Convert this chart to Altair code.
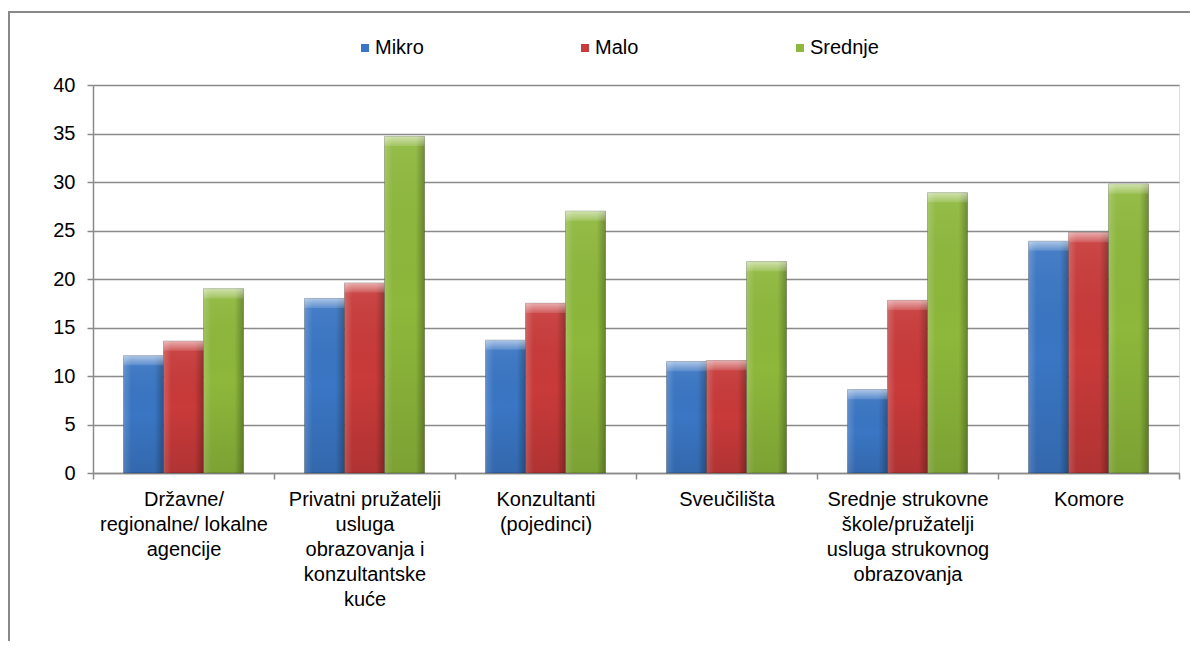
import altair as alt
import pandas as pd

categories = [
    "Državne/\nregionalne/ lokalne\nagencije",
    "Privatni pružatelji\nusluga\nobrazovanja i\nkonzultantske\nkuće",
    "Konzultanti\n(pojedinci)",
    "Sveučilišta",
    "Srednje strukovne\nškole/pružatelji\nusluga strukovnog\nobrazovanja",
    "Komore",
]
series = ["Mikro", "Malo", "Srednje"]
mikro = [12.1, 18.0, 13.7, 11.5, 8.6, 23.9]
malo = [13.6, 19.6, 17.5, 11.6, 17.8, 24.8]
srednje = [19.0, 34.7, 27.0, 21.8, 28.9, 29.8]
colors = ["#3A76C4", "#C93A3A", "#8DB83B"]
y_ticks = [0, 5, 10, 15, 20, 25, 30, 35, 40]

rows = []
for s, vals in zip(series, [mikro, malo, srednje]):
    for c, v in zip(categories, vals):
        rows.append({"cat": c, "series": s, "value": v})
df = pd.DataFrame(rows)

W, H = 1086, 388
FONT = "Liberation Sans"
GRAY = "#8A8A8A"

x = alt.X(
    "cat:N", sort=categories,
    scale=alt.Scale(paddingInner=0, paddingOuter=0),
    axis=alt.Axis(
        title=None, labelAngle=0, labelExpr="split(datum.label, '\\n')",
        tickBand="extent", tickSize=6, tickColor=GRAY, tickWidth=1.5,
        domainColor=GRAY, domainWidth=1.5, grid=False,
        labelFont=FONT, labelFontSize=20, labelColor="black",
        labelLineHeight=25, labelPadding=10, labelLimit=400, labelOverlap=False,
    ),
)
xo = alt.XOffset("series:N", sort=series,
                 scale=alt.Scale(domain=series, paddingInner=0, paddingOuter=0.7625))
y = alt.Y(
    "value:Q", scale=alt.Scale(domain=[0, 40]),
    axis=alt.Axis(
        values=y_ticks, title=None, tickSize=6, tickColor=GRAY, tickWidth=1.5,
        domainColor=GRAY, domainWidth=1.5, gridColor=GRAY, gridWidth=1.6,
        labelFont=FONT, labelFontSize=20, labelColor="black", labelPadding=12,
    ),
)

base = alt.Chart(df).encode(x=x, xOffset=xo, y=y)

bars = base.mark_bar(stroke="rgba(0,0,0,0.35)", strokeWidth=0.7).encode(
    color=alt.Color(
        "series:N", sort=series,
        scale=alt.Scale(domain=series, range=colors),
        legend=alt.Legend(
            title=None, orient="none", legendX=262, legendY=-47,
            direction="horizontal", columnPadding=151, padding=0,
            symbolType="square", symbolSize=64, symbolStrokeWidth=0,
            labelFont=FONT, labelFontSize=20, labelColor="black", labelOffset=0,
        ),
    )
)

shade_h = base.mark_bar(
    fill=alt.Gradient(
        gradient="linear", x1=0, x2=1, y1=0, y2=0,
        stops=[
            alt.GradientStop(color="rgba(255,255,255,0.18)", offset=0),
            alt.GradientStop(color="rgba(255,255,255,0.0)", offset=0.2),
            alt.GradientStop(color="rgba(0,0,0,0.0)", offset=0.78),
            alt.GradientStop(color="rgba(0,0,0,0.28)", offset=1),
        ],
    )
)
shade_v = base.mark_bar(
    fill=alt.Gradient(
        gradient="linear", x1=0, x2=0, y1=0, y2=1,
        stops=[
            alt.GradientStop(color="rgba(255,255,255,0.08)", offset=0),
            alt.GradientStop(color="rgba(0,0,0,0.0)", offset=0.5),
            alt.GradientStop(color="rgba(0,0,0,0.12)", offset=1),
        ],
    )
)
cap = base.transform_calculate(top2="datum.value - 1").mark_bar(
    fill=alt.Gradient(
        gradient="linear", x1=0, x2=0, y1=0, y2=1,
        stops=[
            alt.GradientStop(color="rgba(255,255,255,0.55)", offset=0),
            alt.GradientStop(color="rgba(255,255,255,0.12)", offset=1),
        ],
    )
).encode(y2="top2:Q")

frame_df = pd.DataFrame({"k": [0]})
frame_v = alt.Chart(frame_df).mark_rule(color="#898989", strokeWidth=2).encode(
    x=alt.value(-84), y=alt.value(-74), y2=alt.value(H + 200)
)
frame_h = alt.Chart(frame_df).mark_rule(color="#898989", strokeWidth=2).encode(
    x=alt.value(-85), x2=alt.value(W + 40), y=alt.value(-73)
)

chart = (
    alt.layer(bars, shade_h, shade_v, cap, frame_v, frame_h)
    .properties(
        width=W, height=H,
        autosize=alt.AutoSizeParams(type="none"),
        padding={"left": 85, "top": 77, "right": 11, "bottom": 168},
    )
    .configure_view(stroke=None)
    .configure(background="white")
)

chart.save("out.html", embed_options={"renderer": "svg", "actions": False})
